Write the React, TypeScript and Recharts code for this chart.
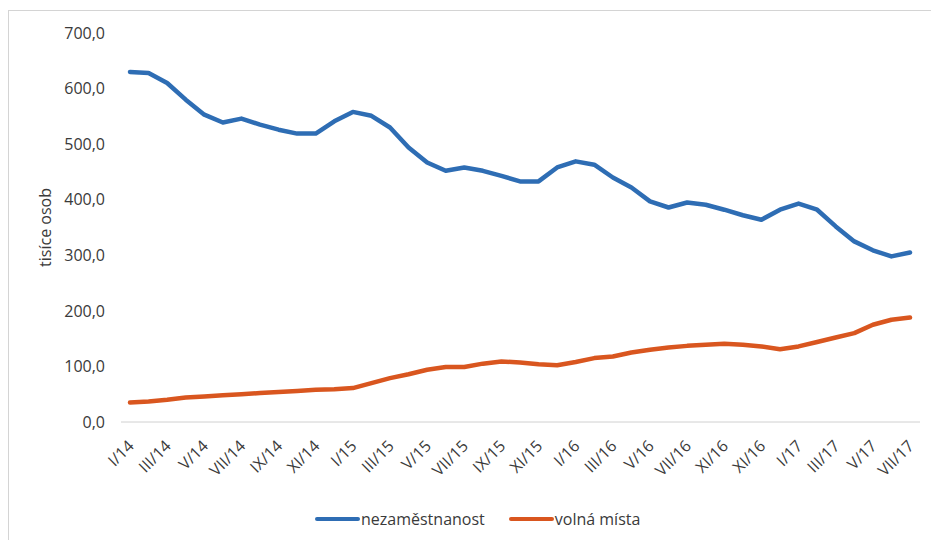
import { LineChart, Line, XAxis, YAxis, Legend } from "recharts";

// měsíce I/14 .. VII/17
const mesice = [
  "I/14", "II/14", "III/14", "IV/14", "V/14", "VI/14", "VII/14", "VIII/14", "IX/14", "X/14", "XI/14", "XII/14",
  "I/15", "II/15", "III/15", "IV/15", "V/15", "VI/15", "VII/15", "VIII/15", "IX/15", "X/15", "XI/15", "XII/15",
  "I/16", "II/16", "III/16", "IV/16", "V/16", "VI/16", "VII/16", "VIII/16", "IX/16", "X/16", "XI/16", "XII/16",
  "I/17", "II/17", "III/17", "IV/17", "V/17", "VI/17", "VII/17",
];

// popisky osy tak, jak jsou v originále (každý druhý měsíc)
const popisky = [
  "I/14", "III/14", "V/14", "VII/14", "IX/14", "XI/14",
  "I/15", "III/15", "V/15", "VII/15", "IX/15", "XI/15",
  "I/16", "III/16", "V/16", "VII/16", "XI/16", "XI/16",
  "I/17", "III/17", "V/17", "VII/17",
];

const nezamestnanost = [
  630, 628, 610, 580, 553, 539, 546, 535, 526, 519, 519, 541,
  558, 551, 530, 494, 467, 452, 458, 452, 443, 433, 433, 458,
  469, 463, 440, 422, 397, 386, 395, 391, 382, 372, 364, 382,
  393, 382, 352, 325, 309, 298, 305,
];

const volnaMista = [
  35, 37, 40, 44, 46, 48, 50, 52, 54, 56, 58, 59,
  61, 70, 79, 86, 94, 99, 99, 105, 109, 107, 104, 102,
  108, 115, 118, 125, 130, 134, 137, 139, 141, 139, 136, 131,
  136, 144, 152, 160, 175, 184, 188,
];

const osaY = [0, 100, 200, 300, 400, 500, 600, 700];

const MODRA = "#2E6DB4";
const ORANZOVA = "#D9561F";
const TEXT = "#3a3a3a";
const FONT = "'Open Sans', sans-serif";

const data = mesice.map((m, i) => ({
  m,
  nezamestnanost: nezamestnanost[i],
  volnaMista: volnaMista[i],
}));

function TickX(props: any) {
  const { x, y, payload } = props;
  const idx = payload.index;
  const text = idx != null && idx % 2 === 0 ? popisky[idx / 2] : payload.value;
  const tx = x + 1;
  return (
    <text
      x={tx}
      y={y}
      dy="0.35em"
      transform={`rotate(-45, ${tx}, ${y})`}
      textAnchor="end"
      fontSize={16}
      fontFamily={FONT}
      fill={TEXT}
    >
      {text}
    </text>
  );
}

function Legenda() {
  const polozky = [
    { nazev: "nezaměstnanost", barva: MODRA },
    { nazev: "volná místa", barva: ORANZOVA },
  ];
  return (
    <div style={{ display: "flex", alignItems: "center", fontFamily: FONT, fontSize: 16, color: TEXT }}>
      {polozky.map((p) => (
        <div key={p.nazev} style={{ display: "flex", alignItems: "center", marginRight: 24 }}>
          <span style={{ display: "inline-block", width: 45, height: 4, borderRadius: 2, background: p.barva, marginRight: 1 }} />
          <span>{p.nazev}</span>
        </div>
      ))}
    </div>
  );
}

export default function App() {
  return (
    <div
      style={{
        marginTop: 2,
        width: 928,
        height: 529,
        borderTop: "1px solid #d4d4d4",
        borderLeft: "1px solid #d4d4d4",
        borderRight: "1px solid #d4d4d4",
        background: "#fff",
      }}
    >
      <LineChart width={928} height={529} data={data} margin={{ top: 22, right: 17, bottom: 12, left: 0 }}>
        <XAxis
          dataKey="m"
          interval={1}
          height={86}
          tick={<TickX />}
          tickLine={false}
          tickSize={0}
          tickMargin={21}
          stroke="#d0d0d0"
          padding={{ left: 9, right: 10 }}
        />
        <YAxis
          width={112}
          domain={[0, 700]}
          ticks={osaY}
          axisLine={false}
          tickLine={false}
          tickSize={0}
          tickMargin={16}
          tickFormatter={(v: number) => v.toFixed(1).replace(".", ",")}
          tick={{ fontSize: 16, fontFamily: FONT, fill: TEXT }}
          label={{
            value: "tisíce osob",
            angle: -90,
            position: "insideLeft",
            offset: 36,
            style: { textAnchor: "middle", fontSize: 16, fontFamily: FONT, fill: TEXT },
          }}
        />
        <Legend
          verticalAlign="bottom"
          height={20}
          content={<Legenda />}
          wrapperStyle={{ left: 306, width: 360 }}
        />
        <Line
          dataKey="nezamestnanost"
          name="nezaměstnanost"
          stroke={MODRA}
          strokeWidth={4.5}
          strokeLinejoin="round"
          strokeLinecap="round"
          dot={false}
          activeDot={false}
          isAnimationActive={false}
        />
        <Line
          dataKey="volnaMista"
          name="volná místa"
          stroke={ORANZOVA}
          strokeWidth={4.5}
          strokeLinejoin="round"
          strokeLinecap="round"
          dot={false}
          activeDot={false}
          isAnimationActive={false}
        />
      </LineChart>
    </div>
  );
}
